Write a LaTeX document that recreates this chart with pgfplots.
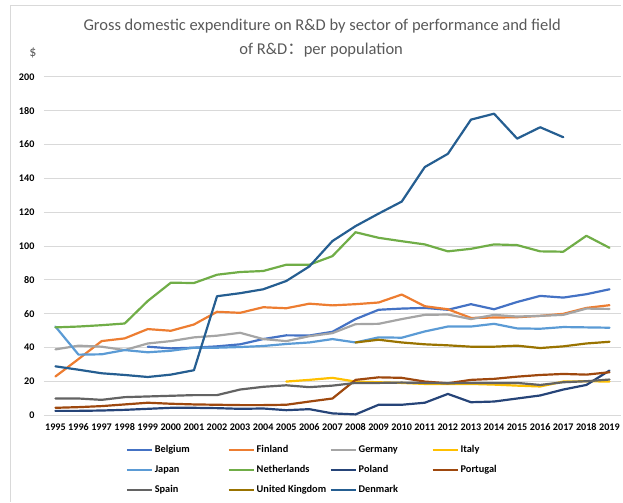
\documentclass[border=0pt]{standalone}
\usepackage{pgfplots}
\pgfplotsset{compat=1.18}
\usepackage{fontspec}
\setmainfont{Carlito}
\newfontfamily\cjk{Noto Sans CJK SC}
\definecolor{cBel}{HTML}{4472C4}
\definecolor{cFin}{HTML}{ED7D31}
\definecolor{cGer}{HTML}{A5A5A5}
\definecolor{cIta}{HTML}{FFC000}
\definecolor{cJap}{HTML}{5B9BD5}
\definecolor{cNet}{HTML}{70AD47}
\definecolor{cPol}{HTML}{264478}
\definecolor{cPor}{HTML}{9E480E}
\definecolor{cSpa}{HTML}{636363}
\definecolor{cUK}{HTML}{997300}
\definecolor{cDen}{HTML}{255E91}
\definecolor{titlegray}{HTML}{595959}
\definecolor{gridgray}{HTML}{D9D9D9}
\definecolor{framegray}{HTML}{D9D9D9}
\begin{document}
\begin{tikzpicture}[x=1bp,y=1bp]
\path (0,0) rectangle (623,503);
\draw[framegray, line width=0.8bp] (10,0) -- (10,498) -- (623,498);
\node[anchor=base, text=titlegray, font=\fontsize{16.6}{19}\selectfont, inner sep=0] at (323,472.3) {Gross domestic expenditure on R\&D by sector of performance and field};
\node[anchor=base, text=titlegray, font=\fontsize{16.6}{19}\selectfont, inner sep=0] at (322,448.7) {of R\&D{\cjk ：}per population};
\node[text=titlegray, font=\fontsize{14}{16}\selectfont, inner sep=0] at (33,450) {\$};
\begin{axis}[
  at={(44bp,86.5bp)}, anchor=south west,
  scale only axis, width=578.6bp, height=339.5bp,
  xmin=1994.5, xmax=2019.5, ymin=0, ymax=200,
  xtick={1995,...,2019}, ytick={0,20,...,200},
  axis line style={draw=none},
  major tick length=0pt,
  ymajorgrids, grid style={gridgray, line width=1bp},
  /pgf/number format/assume math mode=true,
  /pgf/number format/1000 sep={},
  ticklabel style={font=\bfseries\fontsize{10.2}{12}\selectfont, text=black},
  yticklabel style={xshift=-6bp},
  xticklabel style={yshift=-5bp},
  clip=false,
  every axis plot/.append style={line width=2.2bp, line join=round, line cap=round, mark=none},
  legend columns=4,
  legend style={at={(axis description cs:0.1417,-0.0884)}, anchor=north west,
    draw=none, fill=none, inner sep=0bp, outer sep=0bp,
    font=\bfseries\fontsize{10.4}{12}\selectfont,
    nodes={inner sep=0bp, outer sep=0bp, text height=7.5bp, text depth=2.5bp},
    row sep=10bp,
    /tikz/every odd column/.append style={column sep=2bp},
    /tikz/every even column/.append style={column sep=0bp}},
  legend image code/.code={\draw[#1, line cap=butt] (0bp,0bp) -- (25bp,0bp);},
]
\addplot[cBel] coordinates {(1999,40.6)(2000,39.6)(2001,40)(2002,40.8)(2003,42)(2004,45.1)(2005,47.3)(2006,47.2)(2007,49.4)(2008,56.9)(2009,62.4)(2010,63.1)(2011,63.5)(2012,62.4)(2013,65.7)(2014,62.7)(2015,67)(2016,70.6)(2017,69.6)(2018,71.6)(2019,74.5)};
\addlegendentry{\makebox[73bp][l]{Belgium}}
\addplot[cFin] coordinates {(1995,23)(1996,33.3)(1997,43.9)(1998,45.5)(1999,51)(2000,50)(2001,53.7)(2002,61.2)(2003,60.6)(2004,63.9)(2005,63.3)(2006,66)(2007,65)(2008,65.7)(2009,66.7)(2010,71.4)(2011,64.5)(2012,62.7)(2013,57.6)(2014,57.8)(2015,58)(2016,58.8)(2017,60)(2018,63.5)(2019,65.1)};
\addlegendentry{\makebox[73bp][l]{Finland}}
\addplot[cGer] coordinates {(1995,39)(1996,41.2)(1997,40.6)(1998,38.6)(1999,42.5)(2000,43.9)(2001,46.1)(2002,47.1)(2003,48.8)(2004,45.1)(2005,43.9)(2006,46.8)(2007,48.6)(2008,53.9)(2009,54.1)(2010,56.9)(2011,59.4)(2012,59.6)(2013,56.9)(2014,59.4)(2015,58.4)(2016,58.8)(2017,59.4)(2018,63.1)(2019,62.9)};
\addlegendentry{\makebox[73bp][l]{Germany}}
\addplot[cIta] coordinates {(2005,20)(2006,21)(2007,22.2)(2008,20)(2009,19.6)(2010,19.2)(2011,18.6)(2012,18.6)(2013,18.6)(2014,18.2)(2015,17.6)(2016,17.1)(2017,20)(2018,20.2)(2019,20)};
\addlegendentry{\makebox[73bp][l]{Italy}}
\addplot[cJap] coordinates {(1995,52.5)(1996,35.9)(1997,36.1)(1998,38.6)(1999,37.3)(2000,38.2)(2001,40)(2002,40)(2003,40.4)(2004,41)(2005,42.2)(2006,43.1)(2007,45.1)(2008,43.1)(2009,46.1)(2010,45.9)(2011,49.6)(2012,52.5)(2013,52.5)(2014,54.1)(2015,51.4)(2016,51.2)(2017,52.2)(2018,52)(2019,51.8)};
\addlegendentry{\makebox[73bp][l]{Japan}}
\addplot[cNet] coordinates {(1995,52)(1996,52.5)(1997,53.3)(1998,54.3)(1999,67.6)(2000,78.4)(2001,78.2)(2002,83.1)(2003,84.7)(2004,85.3)(2005,89)(2006,89)(2007,94.1)(2008,108.2)(2009,104.9)(2010,102.9)(2011,101)(2012,96.9)(2013,98.4)(2014,101)(2015,100.6)(2016,96.9)(2017,96.7)(2018,106.1)(2019,99)};
\addlegendentry{\makebox[73bp][l]{Netherlands}}
\addplot[cPol] coordinates {(1995,2.7)(1996,2.7)(1997,2.9)(1998,3.3)(1999,3.9)(2000,4.5)(2001,4.5)(2002,4.3)(2003,3.9)(2004,4.1)(2005,3.1)(2006,3.7)(2007,1.2)(2008,0.6)(2009,6.3)(2010,6.3)(2011,7.5)(2012,12.7)(2013,7.8)(2014,8.2)(2015,10)(2016,11.8)(2017,15.3)(2018,18)(2019,26.5)};
\addlegendentry{\makebox[73bp][l]{Poland}}
\addplot[cPor] coordinates {(1995,4.5)(1996,4.9)(1997,5.5)(1998,6.5)(1999,7.5)(2000,6.9)(2001,6.5)(2002,6.3)(2003,6.1)(2004,6.1)(2005,6.3)(2006,8.2)(2007,10)(2008,21)(2009,22.5)(2010,22.2)(2011,20)(2012,19)(2013,21)(2014,21.6)(2015,22.9)(2016,23.9)(2017,24.5)(2018,24.1)(2019,25.5)};
\addlegendentry{\makebox[73bp][l]{Portugal}}
\addplot[cSpa] coordinates {(1995,10)(1996,10)(1997,9.2)(1998,10.8)(1999,11.2)(2000,11.6)(2001,12)(2002,12)(2003,15.3)(2004,16.9)(2005,17.8)(2006,16.7)(2007,17.6)(2008,19.2)(2009,19.2)(2010,19.4)(2011,19.2)(2012,19)(2013,19.2)(2014,19.2)(2015,19.2)(2016,18)(2017,19.6)(2018,20.2)(2019,21.2)};
\addlegendentry{\makebox[73bp][l]{Spain}}
\addplot[cUK] coordinates {(2008,43.1)(2009,44.7)(2010,43.1)(2011,42)(2012,41.4)(2013,40.6)(2014,40.6)(2015,41.2)(2016,39.8)(2017,40.8)(2018,42.5)(2019,43.5)};
\addlegendentry{\makebox[73bp][l]{United Kingdom}}
\addplot[cDen] coordinates {(1995,29)(1996,27)(1997,24.9)(1998,23.9)(1999,22.7)(2000,24.1)(2001,26.7)(2002,70.4)(2003,72.2)(2004,74.5)(2005,79.4)(2006,88)(2007,103)(2008,111.8)(2009,119.2)(2010,126.3)(2011,146.7)(2012,154.5)(2013,174.7)(2014,178.2)(2015,163.5)(2016,170.2)(2017,164.3)};
\addlegendentry{\makebox[73bp][l]{Denmark}}
\end{axis}
\end{tikzpicture}
\end{document}
